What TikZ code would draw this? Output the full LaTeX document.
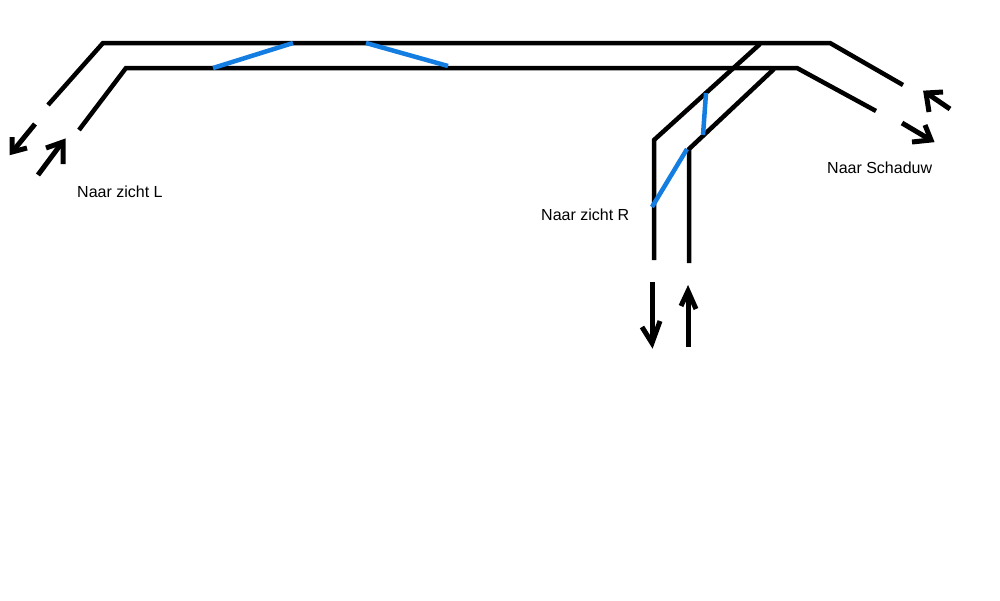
\documentclass[tikz,border=0pt]{standalone}
\usepackage{fontspec}
\setmainfont{Liberation Sans}
\tikzset{
  rail/.style={line width=4.5pt,black,line cap=butt,line join=miter},
  pointer/.style={line width=5pt,black,line cap=butt,line join=miter},
  link/.style={line width=4.5pt,color={rgb,255:red,20;green,125;blue,225},line cap=butt},
  caption/.style={font=\fontsize{16}{19}\selectfont,inner sep=0pt,anchor=west}
}
\begin{document}
\begin{tikzpicture}[x=1pt,y=-1pt]
\useasboundingbox (0,0) rectangle (1000,600);
% main double track
\draw[rail] (48,105) -- (103,43) -- (830,43) -- (903,85);
\draw[rail] (79,130) -- (126,68) -- (797,68) -- (876,111);
% branch towards the right-hand view
\draw[rail] (760,44) -- (654,140) -- (654,260);
\draw[rail] (774,69) -- (689,149) -- (689,263);
% crossovers
\draw[link] (213,68) -- (293,43);
\draw[link] (366,43) -- (448,66);
\draw[link] (706,93) -- (703,135);
\draw[link] (687,149) -- (652,207);
% direction arrows, left
\draw[pointer] (35,124) -- (13,151);
\draw[pointer] (12,137) -- (12,152) -- (27,148);
\draw[pointer] (38,175) -- (61,144);
\draw[pointer] (46,148) -- (63,142) -- (63,164);
% direction arrows, branch
\draw[pointer] (652,282) -- (652,343);
\draw[pointer] (642,327) -- (652,343) -- (660,321);
\draw[pointer] (688,347) -- (688,293);
\draw[pointer] (681,306) -- (688,291) -- (696,309);
% direction arrows, right
\draw[pointer] (902,123) -- (929,139);
\draw[pointer] (912,142) -- (931,140) -- (925,125);
\draw[pointer] (950,109) -- (928,94);
\draw[pointer] (943,92) -- (926,93) -- (929,112);
% captions
\node[caption] (viewL) at (77,192) {Naar zicht L};
\node[caption] (viewR) at (541,215) {Naar zicht R};
\node[caption] (shade) at (827,168) {Naar Schaduw};
\end{tikzpicture}
\end{document}
